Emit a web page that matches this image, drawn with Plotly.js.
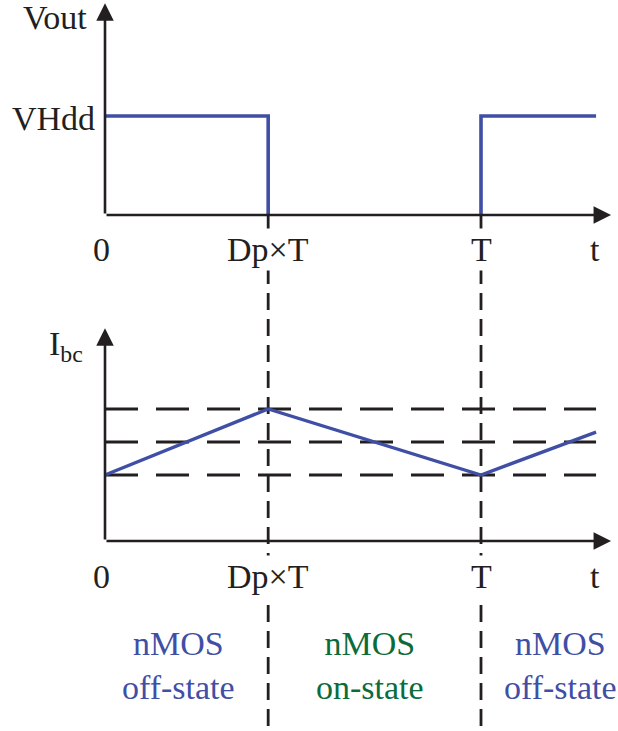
<!DOCTYPE html>
<html>
<head>
<meta charset="utf-8">
<script src="https://cdn.plot.ly/plotly-3.0.1.min.js"></script>
<style>
  html, body { margin: 0; padding: 0; background: #ffffff; }
  #plot { width: 618px; height: 731px; }
</style>
</head>
<body>
<div id="plot"></div>
<script>
// Switching period normalised to T = 1; Dp is the duty ratio.
const Dp = 0.434;
const T = 1;
const tEnd = 1.306;      // last drawn instant of the waveforms
const tAxisEnd = 1.346;  // tip of the time-axis arrows

// Output voltage Vout (square wave, VHdd = 1)
const voutT = [0, Dp, Dp, null, T, T, tEnd];
const voutV = [1, 1, 0, null, 0, 1, 1];
const vAxisTop = 2.14;

// Inductor current Ibc (triangular ripple between Imin and Imax)
const ibcT = [0, Dp, T, tEnd];
const ibcI = [2, 4, 2, 3.3];
const ibcLevels = [2, 3, 4];   // Imin, Iavg, Imax
const iAxisTop = 6.45;

// Axis tick labels
const tickT = [0, Dp, T, tAxisEnd];
const tickText = ['0', 'Dp×T', 'T', 't'];

// Operating-state captions between the switching instants
const stateText = ['nMOS<br>off-state', 'nMOS<br>on-state', 'nMOS<br>off-state'];
const stateColor = ['#3f4fa6', '#0b6b3a', '#3f4fa6'];
const stateCenterPx = [178, 370, 560];

const BLUE = '#3f4fa6';
const INK = '#231f20';
const FONT = '"Liberation Serif", "Times New Roman", serif';
const FS = 34;

const traces = [];

// Horizontal reference levels of the current
ibcLevels.forEach(lv => {
  traces.push({
    x: [0, tEnd], y: [lv, lv], xaxis: 'x', yaxis: 'y2', mode: 'lines',
    line: { color: INK, width: 2.8, dash: '33px,18px' }, hoverinfo: 'skip'
  });
});

// Vertical markers at Dp×T and T running through both panels
[Dp, T].forEach(tv => {
  traces.push({
    x: [tv, tv], y: [0, -5.4], xaxis: 'x', yaxis: 'y', mode: 'lines',
    line: { color: INK, width: 2.8, dash: '17px,9px' }, hoverinfo: 'skip'
  });
});

// Waveforms
traces.push({
  x: voutT, y: voutV, xaxis: 'x', yaxis: 'y', mode: 'lines', connectgaps: false,
  line: { color: BLUE, width: 3.6 }, hoverinfo: 'skip'
});
traces.push({
  x: ibcT, y: ibcI, xaxis: 'x', yaxis: 'y2', mode: 'lines',
  line: { color: BLUE, width: 3.4 }, hoverinfo: 'skip'
});

// Axes drawn as arrows
function axisArrow(x, y, yref) {
  return {
    x: x, y: y, ax: 0, ay: 0, xref: 'x', yref: yref, axref: 'x', ayref: yref,
    text: '', showarrow: true, arrowhead: 2, arrowsize: 1.35, arrowwidth: 2.6,
    arrowcolor: INK, standoff: 0
  };
}

function label(text, px, py, opts) {
  return Object.assign({
    text: text, x: px / 618, y: 1 - py / 731, xref: 'paper', yref: 'paper',
    xanchor: 'center', yanchor: 'middle', showarrow: false,
    font: { family: FONT, size: FS, color: INK }
  }, opts || {});
}

const annotations = [
  axisArrow(0, vAxisTop, 'y'),
  axisArrow(tAxisEnd, 0, 'y'),
  axisArrow(0, iAxisTop, 'y2'),
  axisArrow(tAxisEnd, 0, 'y2'),
  label('Vout', 55, 17),
  label('VHdd', 53, 118),
  label('I<sub>bc</sub>', 66, 346)
];

// Tick labels under both time axes
const tickPx = tickT.map(t => 105 + t * 376);
tickPx[0] = 101;
tickPx[3] = 595;
[250, 576].forEach(py => {
  tickText.forEach((txt, i) => {
    const opts = (i === 1 || i === 2) ? { bgcolor: '#ffffff', borderpad: 2 } : {};
    annotations.push(label(txt, tickPx[i], py, opts));
  });
});

stateText.forEach((txt, i) => {
  annotations.push(label(txt, stateCenterPx[i], 665, {
    font: { family: FONT, size: FS, color: stateColor[i] }
  }));
});

const layout = {
  width: 618, height: 731,
  margin: { l: 0, r: 0, t: 0, b: 0 },
  paper_bgcolor: '#ffffff', plot_bgcolor: '#ffffff',
  showlegend: false,
  xaxis: { range: [-105 / 376, 513 / 376], visible: false, fixedrange: true },
  yaxis: { range: [-(731 - 215) / 99, 215 / 99], visible: false, fixedrange: true },
  yaxis2: { range: [-(731 - 541) / 33, 541 / 33], visible: false, overlaying: 'y', fixedrange: true },
  annotations: annotations
};

Plotly.newPlot('plot', traces, layout, { staticPlot: true, displayModeBar: false });
</script>
</body>
</html>
